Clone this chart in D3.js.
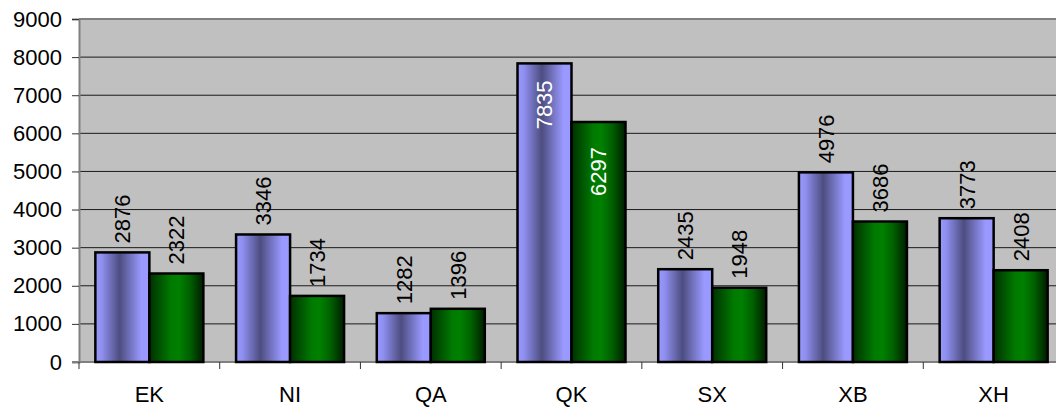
<!DOCTYPE html>
<html><head><meta charset="utf-8">
<script src="https://cdn.jsdelivr.net/npm/d3@7"></script>
<style>body{margin:0;background:#fff;overflow:hidden}svg{display:block}text{font-family:"Liberation Sans",Arial,sans-serif}</style>
</head><body><svg id="c" width="1056" height="407"></svg>
<script>
const categories = ["EK","NI","QA","QK","SX","XB","XH"];
const series1 = [2876,3346,1282,7835,2435,4976,3773];
const series2 = [2322,1734,1396,6297,1948,3686,2408];
const yTicks = [0,1000,2000,3000,4000,5000,6000,7000,8000,9000];

(function(){
const svg = d3.select("#c");
const pL = 79, pR = 1064, pT = 19, pB = 362;
const fs = "22px";
const x = d3.scaleBand().domain(categories).range([pL, pR]).paddingInner(0).paddingOuter(0);
const y = d3.scaleLinear().domain([0, 9000]).range([pB, pT]);
const bw = 54, off = (x.bandwidth() - 2*bw)/2;

const defs = svg.append("defs");
const g1 = defs.append("linearGradient").attr("id","gb").attr("x1","0").attr("x2","1").attr("y1","0").attr("y2","0");
[[0,"#9999ff"],[0.12,"#8f8ff0"],[0.45,"#4d4d80"],[0.85,"#9999ff"],[1,"#9999ff"]].forEach(s=>g1.append("stop").attr("offset",s[0]).attr("stop-color",s[1]));
const g2 = defs.append("linearGradient").attr("id","gg").attr("x1","0").attr("x2","1").attr("y1","0").attr("y2","0");
[[0,"#003000"],[0.4,"#007a00"],[0.55,"#008000"],[0.75,"#006000"],[1,"#001c00"]].forEach(s=>g2.append("stop").attr("offset",s[0]).attr("stop-color",s[1]));

svg.append("rect").attr("x",pL).attr("y",pT).attr("width",pR-pL).attr("height",pB-pT).attr("fill","#c0c0c0");
svg.selectAll(".grid").data(yTicks.filter(d=>d>0 && d<9000)).enter().append("line")
  .attr("x1",pL).attr("x2",pR).attr("y1",d=>y(d)).attr("y2",d=>y(d)).attr("stroke","#1a1a1a").attr("stroke-width",1);
svg.append("line").attr("x1",pL).attr("x2",pR).attr("y1",pT).attr("y2",pT).attr("stroke","#808080").attr("stroke-width",2);

const ya = d3.axisLeft(y).tickValues(yTicks).tickSize(7).tickPadding(10).tickFormat(d3.format("d"));
const yg = svg.append("g").attr("transform",`translate(${pL},0)`).call(ya);
yg.select(".domain").attr("stroke","#808080").attr("stroke-width",2);
yg.selectAll(".tick line").attr("stroke","#333").attr("stroke-width",1);
yg.selectAll("text").attr("font-size",fs).attr("fill","#000").attr("font-family","'Liberation Sans',Arial,sans-serif");

const xa = d3.axisBottom(x).tickSize(0).tickPadding(24);
const xg = svg.append("g").attr("transform",`translate(0,${pB})`).call(xa);
xg.select(".domain").attr("stroke","#808080").attr("stroke-width",2).attr("d",`M${pL-7},0H${pR}`);
xg.selectAll("text").attr("font-size",fs).attr("fill","#000").attr("font-family","'Liberation Sans',Arial,sans-serif");
svg.selectAll(".xt").data(categories.concat(["_end"])).enter().append("line")
  .attr("x1",(d,i)=>pL+i*x.bandwidth()).attr("x2",(d,i)=>pL+i*x.bandwidth())
  .attr("y1",pB).attr("y2",pB+7).attr("stroke","#333").attr("stroke-width",1);

const seriesList = [{vals:series1, fill:"url(#gb)", inOff:17},{vals:series2, fill:"url(#gg)", inOff:25}];
seriesList.forEach((s,si)=>{
  svg.selectAll(".bar"+si).data(categories).enter().append("rect")
    .attr("x",c=>x(c)+off+si*bw).attr("width",bw)
    .attr("y",(c,i)=>y(s.vals[i])).attr("height",(c,i)=>pB-y(s.vals[i]))
    .attr("fill",s.fill).attr("stroke","#000").attr("stroke-width",2.5);
});
seriesList.forEach((s,si)=>{
  svg.selectAll(".lab"+si).data(categories).enter().append("text")
    .attr("transform",(c,i)=>{
      const cx = x(c)+off+si*bw+bw/2;
      const inside = s.vals[i] > 6000;
      const yy = inside ? y(s.vals[i]) + s.inOff : y(s.vals[i]) - 9;
      return `translate(${cx},${yy}) rotate(-90)`;
    })
    .attr("text-anchor",(c,i)=>s.vals[i] > 6000 ? "end" : "start")
    .attr("dy","0.36em")
    .attr("font-size",fs)
    .attr("fill",(c,i)=>s.vals[i] > 6000 ? "#fff" : "#000")
    .text((c,i)=>s.vals[i]);
});
})();
</script></body></html>
